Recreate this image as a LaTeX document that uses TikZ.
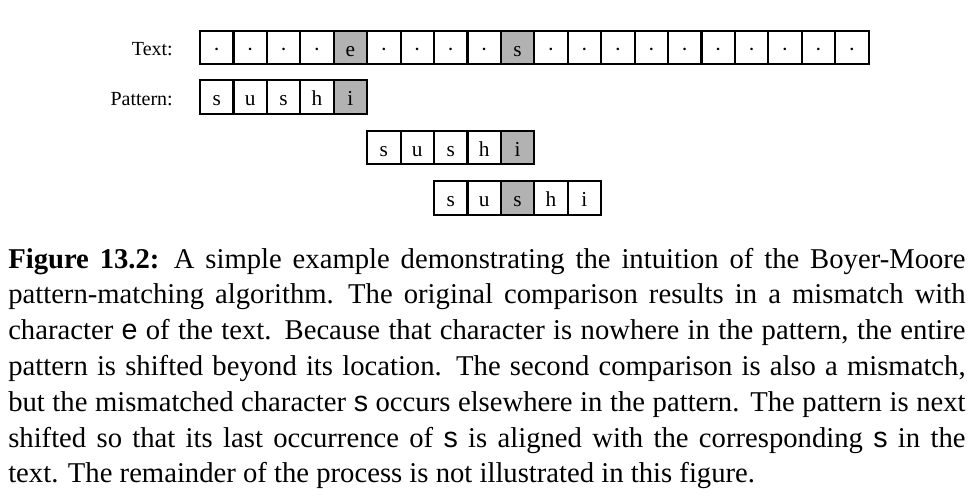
\documentclass[tikz,border=0pt]{standalone}
\usepackage{fontspec}
\setmainfont{Liberation Serif}
\newfontfamily\sansf{Liberation Sans}
\tikzset{
  cellbox/.style={draw, line width=1.6pt, minimum width=25.07pt, minimum height=25.1pt,
    inner sep=0pt, outer sep=0pt, text height=13pt, text depth=0pt,
    font=\fontsize{16}{19}\selectfont},
  lbl/.style={anchor=base east, inner sep=0pt, font=\fontsize{15}{18}\selectfont},
  capline/.style={anchor=base west, inner sep=0pt, font=\fontsize{21.5}{26}\selectfont}
}
\newcommand{\capbox}[1]{\hbox to 718pt{#1}}
\begin{document}
\begin{tikzpicture}[x={(0.75pt,0pt)},y={(0pt,-0.75pt)}]
\useasboundingbox[fill=white] (0,0) rectangle (974,499);
% labels
\node[lbl] (ltext) at (173,55.5) {Text:};
\node[lbl] (lpat) at (173,106) {Pattern:};
% text row
\foreach \c/\f [count=\i from 0] in {·/white,·/white,·/white,·/white,e/gray!60,·/white,·/white,·/white,·/white,s/gray!60,·/white,·/white,·/white,·/white,·/white,·/white,·/white,·/white,·/white,·/white}
  \node[cellbox, fill=\f] (t\i) at ({200+33.43*(\i+0.5)},47.5) {\c};
% pattern rows
\foreach \c/\f [count=\i from 0] in {s/white,u/white,s/white,h/white,i/gray!60}
  \node[cellbox, fill=\f] (p\i) at ({200+33.43*(\i+0.5)},97) {\c};
\foreach \c/\f [count=\i from 0] in {s/white,u/white,s/white,h/white,i/gray!60}
  \node[cellbox, fill=\f] (q\i) at ({200+33.43*(\i+5.5)},147.5) {\c};
\foreach \c/\f [count=\i from 0] in {s/white,u/white,s/gray!60,h/white,i/white}
  \node[cellbox, fill=\f] (r\i) at ({200+33.43*(\i+7.5)},198) {\c};
% caption
\node[capline] (c1) at (8,268) {\capbox{\textbf{Figure 13.2:}\enspace A simple example demonstrating the intuition of the Boyer-Moore}};
\node[capline] (c2) at (8,303.8) {\capbox{pattern-matching algorithm.\enspace The original comparison results in a mismatch with}};
\node[capline] (c3) at (8,339.6) {\capbox{character {\sansf e} of the text. Because that character is nowhere in the pattern, the entire}};
\node[capline] (c4) at (8,375.4) {\capbox{pattern is shifted beyond its location.\enspace The second comparison is also a mismatch,}};
\node[capline] (c5) at (8,411.2) {\capbox{but the mismatched character {\sansf s} occurs elsewhere in the pattern. The pattern is next}};
\node[capline] (c6) at (8,447) {\capbox{shifted so that its last occurrence of {\sansf s} is aligned with the corresponding {\sansf s} in the}};
\node[capline] (c7) at (8,482.8) {\capbox{text. The remainder of the process is not illustrated in this figure.\hfil}};
\end{tikzpicture}
\end{document}
